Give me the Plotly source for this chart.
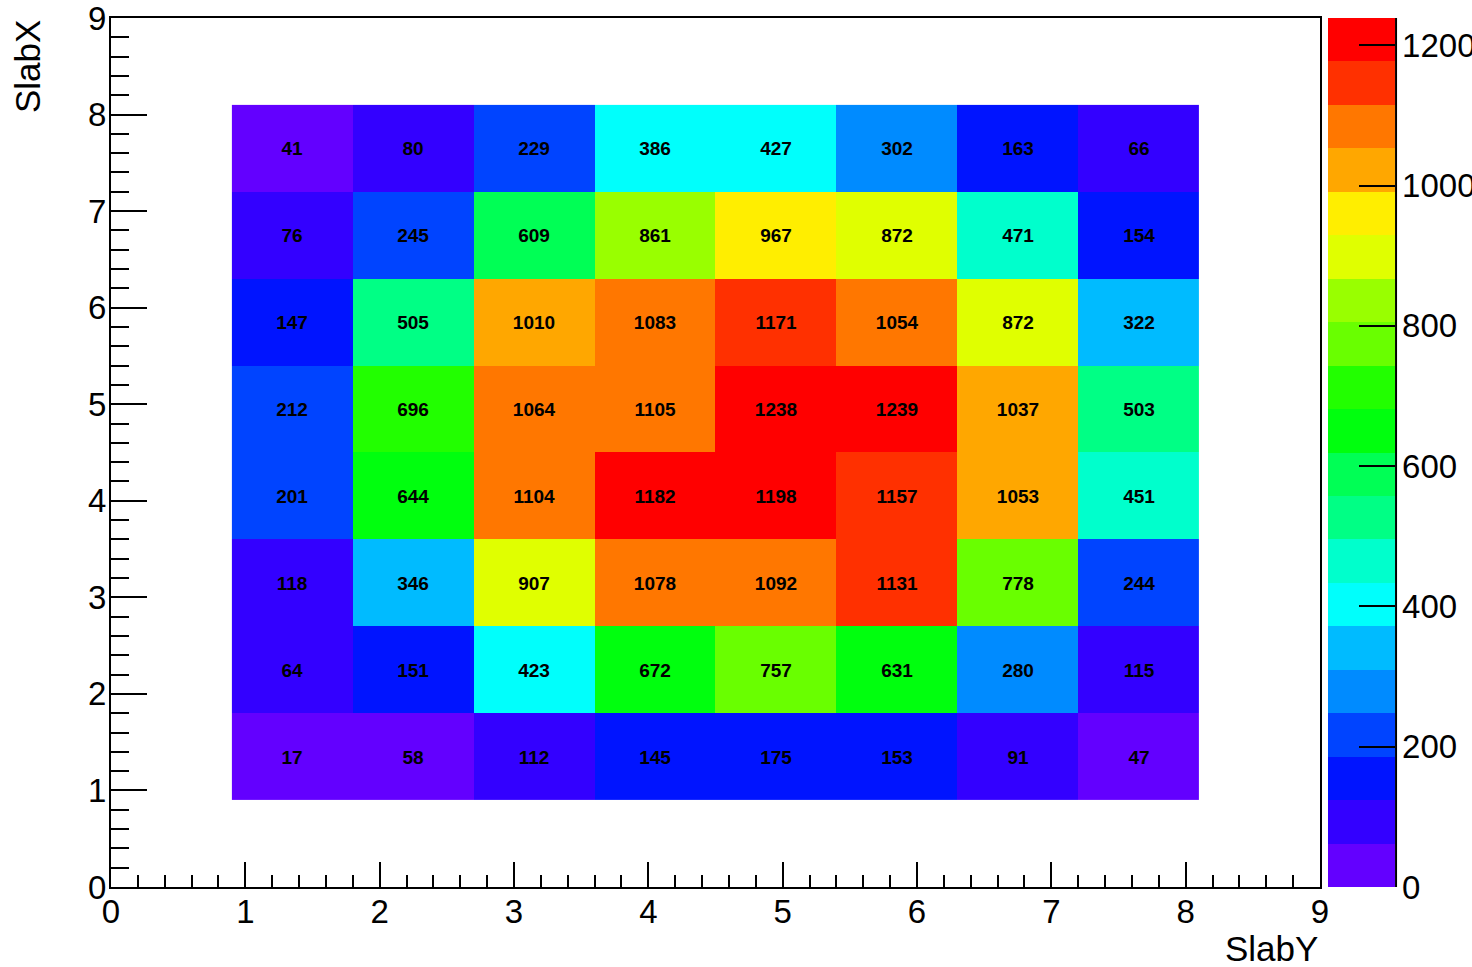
import colorsys
import numpy as np
import plotly.graph_objects as go

# Histogram binning: 10 bins over [0, 9]; only bins 1..8 are filled
NBINS = 10
XMIN, XMAX = 0.0, 9.0
FILLED_BINS = list(range(1, 9))

# Bin contents, rows from SlabX bin 1 (bottom) to bin 8 (top), columns SlabY bin 1..8
row1 = [17, 58, 112, 145, 175, 153, 91, 47]
row2 = [64, 151, 423, 672, 757, 631, 280, 115]
row3 = [118, 346, 907, 1078, 1092, 1131, 778, 244]
row4 = [201, 644, 1104, 1182, 1198, 1157, 1053, 451]
row5 = [212, 696, 1064, 1105, 1238, 1239, 1037, 503]
row6 = [147, 505, 1010, 1083, 1171, 1054, 872, 322]
row7 = [76, 245, 609, 861, 967, 872, 471, 154]
row8 = [41, 80, 229, 386, 427, 302, 163, 66]
z = [row1, row2, row3, row4, row5, row6, row7, row8]

ZMIN, ZMAX = 0, 1239
cbar_ticks = [0, 200, 400, 600, 800, 1000, 1200]
x_ticks = list(range(0, 10))

# Bin edges of the filled bins
width = (XMAX - XMIN) / NBINS
edges = [XMIN + width * b for b in range(FILLED_BINS[0], FILLED_BINS[-1] + 2)]

# ROOT "pretty" palette (50 colours, violet -> red), 20 contour levels
NCOL, NCONT = 50, 20
palette = []
for i in range(NCOL):
    hue = 280 - (i + 1) * (280.0 / NCOL)
    r, g, b = colorsys.hls_to_rgb(hue / 360.0, 0.5, 1.0)
    palette.append("rgb(%d,%d,%d)" % (round(r * 255), round(g * 255), round(b * 255)))
colorscale = []
for j in range(NCONT):
    c = palette[int((j + 0.99) * NCOL / NCONT)]
    colorscale.append([j / NCONT, c])
    colorscale.append([(j + 1) / NCONT, c])

FONT = "Liberation Sans, Arial, Helvetica, sans-serif"

fig = go.Figure()
fig.add_trace(go.Heatmap(
    z=z, x=edges, y=edges,
    zmin=ZMIN, zmax=ZMAX,
    colorscale=colorscale,
    texttemplate="<b>%{z}</b>",
    textfont=dict(family=FONT, size=19, color="black"),
    hoverinfo="x+y+z",
    colorbar=dict(
        x=1.0066, xanchor="left", xpad=0,
        y=0.5, yanchor="middle", ypad=0,
        len=1, lenmode="fraction",
        thickness=67, thicknessmode="pixels",
        outlinewidth=0,
        tickvals=cbar_ticks,
        ticks="inside", ticklen=36, tickwidth=2, tickcolor="black",
        tickfont=dict(family=FONT, size=33, color="black"),
        ticklabeloverflow="allow",
    ),
))

axis_common = dict(
    range=[XMIN, XMAX],
    tickvals=x_ticks,
    showgrid=False, zeroline=False,
    showline=True, linecolor="black", linewidth=2, mirror=True,
    ticks="inside", tickwidth=1.5, tickcolor="black",
    tickfont=dict(family=FONT, size=33, color="black"),
    automargin=False,
    ticklabeloverflow="allow",
)

fig.update_layout(
    width=1472, height=967,
    margin=dict(l=111, r=152, t=18, b=80, autoexpand=False),
    paper_bgcolor="white", plot_bgcolor="white",
    xaxis=dict(**axis_common, ticklen=25, ticklabelstandoff=-6,
               minor=dict(dtick=0.2, ticks="inside", ticklen=12, tickwidth=1.5, tickcolor="black")),
    yaxis=dict(**axis_common, ticklen=36, ticklabelstandoff=-4,
               minor=dict(dtick=0.2, ticks="inside", ticklen=18, tickwidth=1.5, tickcolor="black")),
    annotations=[
        dict(text="SlabY", xref="paper", yref="paper", x=1.0, y=-0.0702,
             xanchor="right", yanchor="middle", showarrow=False,
             font=dict(family=FONT, size=35, color="black")),
        dict(text="SlabX", xref="paper", yref="paper", x=-0.069, y=1.0,
             xanchor="center", yanchor="top", textangle=-90, showarrow=False,
             font=dict(family=FONT, size=35, color="black")),
    ],
    shapes=[
        dict(type="line", xref="paper", yref="paper",
             x0=1.0629, x1=1.0629, y0=0, y1=1,
             line=dict(color="black", width=2)),
    ],
)

fig.write_html("out.html",
               config={"displayModeBar": False},
               post_script="document.body.style.margin='0';document.body.style.overflow='hidden';")
